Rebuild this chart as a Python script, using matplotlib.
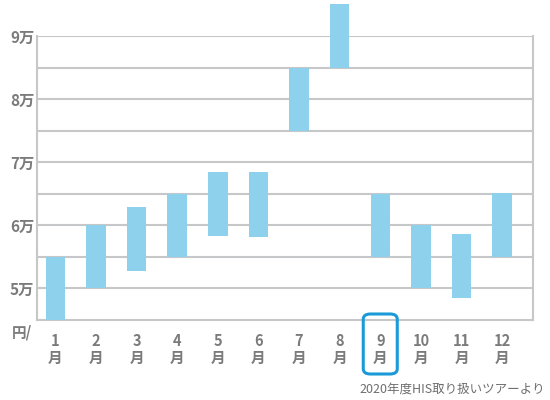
"""月別の料金レンジ (浮き棒グラフ)"""
import matplotlib.pyplot as plt
from matplotlib.patches import FancyBboxPatch

plt.rcParams['font.family'] = ['Noto Sans CJK JP', 'DejaVu Sans']

# データ
months = ["1", "2", "3", "4", "5", "6", "7", "8", "9", "10", "11", "12"]
low_prices = [45000, 50000, 52800, 55000, 58300, 58200, 75000, 85000, 55000, 50000, 48500, 55000]
high_prices = [55000, 60000, 62900, 65000, 68500, 68400, 85000, 95000, 65000, 60000, 58600, 65200]
ytick_values = [50000, 60000, 70000, 80000, 90000]
ytick_labels = ["5万", "6万", "7万", "8万", "9万"]
highlight_month = "9"
source_note = "2020年度HIS取り扱いツアーより"

BAR_COLOR = "#8DD1EC"
GRID_COLOR = "#C5C7C9"
TEXT_COLOR = "#7B7B7B"
HIGHLIGHT = "#1A9BD7"

fig = plt.figure(figsize=(5.5, 4), dpi=100)
ax = fig.add_axes([37 / 550, 80 / 400, 496 / 550, 284 / 400])

x = list(range(len(months)))
heights = [h - l for l, h in zip(low_prices, high_prices)]
ax.bar(x, heights, bottom=low_prices, width=0.48, color=BAR_COLOR,
       zorder=3, clip_on=False)

# 補助線 (5千円刻み)
for y in range(50000, 90001, 5000):
    ax.axhline(y, color=GRID_COLOR, lw=1.5, zorder=1)

ax.set_xlim(-0.45, 11.76)
ax.set_ylim(45000, 90000)

for side in ["left", "right", "bottom"]:
    ax.spines[side].set_color(GRID_COLOR)
    ax.spines[side].set_linewidth(1.5)
ax.spines["top"].set_visible(False)

ax.set_yticks(ytick_values)
ax.set_yticklabels(ytick_labels, fontsize=11, fontweight="bold",
                   color=TEXT_COLOR)
ax.set_xticks(x)
ax.set_xticklabels([f"{m}\n月" for m in months], fontsize=10.5,
                   fontweight="bold", color=TEXT_COLOR, linespacing=1.1)
ax.tick_params(length=0, pad=2)
ax.tick_params(axis="x", pad=9)

fig.text(22 / 550, 1 - 332 / 400, "円/", fontsize=10.5, fontweight="bold",
         color=TEXT_COLOR, ha="center", va="center")

# 9月の強調枠
hx = months.index(highlight_month)
x_disp = ax.transData.transform((hx, 45000))[0]
box = FancyBboxPatch(((x_disp - 17) / 550, 1 - 374 / 400), 34 / 550, 60 / 400,
                     boxstyle="round,pad=0,rounding_size=0.013",
                     transform=fig.transFigure, fill=False,
                     edgecolor=HIGHLIGHT, lw=2.2)
fig.patches.append(box)

fig.text(545 / 550, 1 - 389 / 400, source_note, fontsize=9,
         color="#6E6E6E", ha="right", va="center")

fig.savefig("out.png", dpi=100)
